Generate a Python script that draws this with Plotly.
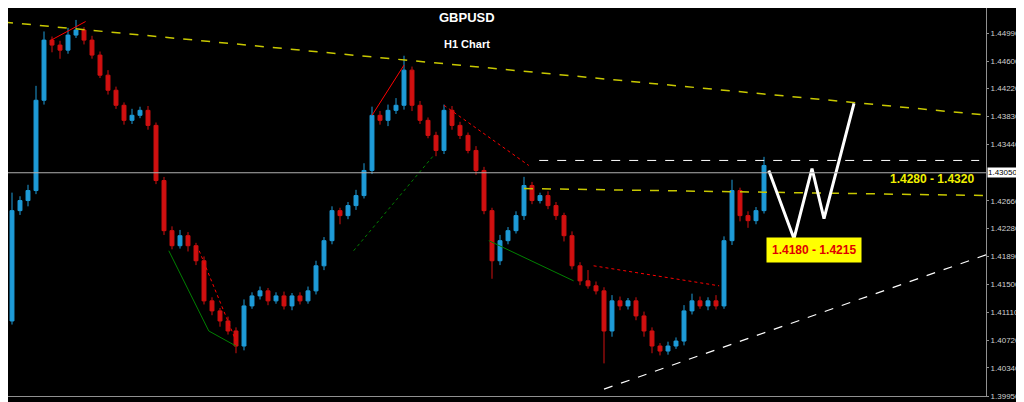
import plotly.graph_objects as go

# hourly closes (one candle per ~8 px)
closes = [1.40992, 1.42524, 1.42664, 1.42803, 1.44057, 1.44892, 1.44823, 1.44753, 1.44962, 1.45032,
          1.44892, 1.44684, 1.44405, 1.44196, 1.43987, 1.43778, 1.43848, 1.43917, 1.43708, 1.42942,
          1.42246, 1.42037, 1.42176, 1.42037, 1.41828, 1.41271, 1.41132, 1.40992, 1.40853, 1.40644,
          1.41201, 1.41340, 1.41410, 1.41271, 1.41340, 1.41201, 1.41340, 1.41271, 1.41410, 1.41758,
          1.42107, 1.42524, 1.42455, 1.42594, 1.42733, 1.43082, 1.43848, 1.43778, 1.43917, 1.43987,
          1.44475, 1.43987, 1.43778, 1.43569, 1.43360, 1.43917, 1.43708, 1.43569, 1.43360, 1.43082,
          1.42524, 1.41828, 1.42107, 1.42246, 1.42455, 1.42873, 1.42664, 1.42733, 1.42594, 1.42455,
          1.42176, 1.41758, 1.41549, 1.41480, 1.41410, 1.40853, 1.41271, 1.41201, 1.41271, 1.41062,
          1.40853, 1.40644, 1.40574, 1.40644, 1.40713, 1.41132, 1.41271, 1.41201, 1.41271, 1.41201,
          1.42107, 1.42803, 1.42455, 1.42385, 1.42524, 1.43151]
first_open = 1.41500
# wick lengths in pips above / below the body
wick_up = [4, 25, 6, 8, 20, 12, 5, 6, 10, 14, 4, 6, 5, 7, 5, 4, 9, 5, 6, 4,
           5, 6, 8, 5, 4, 6, 5, 4, 6, 5, 9, 5, 6, 4, 5, 6, 4, 5, 6, 7,
           5, 6, 4, 5, 8, 10, 12, 6, 8, 10, 20, 5, 6, 4, 5, 8, 6, 5, 4, 6,
           5, 4, 8, 5, 6, 12, 5, 4, 6, 5, 4, 6, 5, 15, 6, 5, 8, 6, 4, 5,
           6, 5, 4, 6, 5, 8, 10, 6, 5, 8, 6, 15, 4, 6, 5, 12]
wick_dn = [10, 5, 6, 8, 5, 6, 10, 12, 5, 4, 6, 5, 4, 6, 5, 6, 5, 4, 6, 5,
           6, 5, 4, 8, 6, 5, 6, 8, 5, 10, 6, 4, 5, 6, 4, 5, 6, 5, 4, 5,
           6, 5, 12, 5, 6, 4, 5, 6, 8, 5, 6, 8, 5, 4, 8, 5, 6, 5, 4, 6,
           5, 25, 6, 5, 4, 6, 5, 4, 5, 6, 8, 5, 6, 4, 5, 45, 8, 6, 5, 6,
           8, 10, 6, 5, 4, 6, 5, 4, 6, 5, 4, 6, 8, 10, 5, 4]

opens = [first_open] + closes[:-1]
highs = [max(o, c) + w / 10000 for o, c, w in zip(opens, closes, wick_up)]
lows = [min(o, c) - w / 10000 for o, c, w in zip(opens, closes, wick_dn)]
xs = list(range(len(closes)))

y_ticks = [1.45380, 1.44990, 1.44600, 1.44220, 1.43830, 1.43440, 1.42660,
           1.42280, 1.41890, 1.41500, 1.41110, 1.40720, 1.40340, 1.39950]
current_price = 1.43050

# drawn lines (x in candle units)
top_line_x, top_line_y = [0, 123.1], [1.45143, 1.43848]
mid_yellow_x, mid_yellow_y = [65, 123.1], [1.42831, 1.42733]
white_dash_x, white_dash_y = [66.9, 121.9], [1.43221, 1.43221]
bottom_line_x, bottom_line_y = [75, 123.1], [1.40045, 1.41925]
zigzag_x = [95.6, 98.75, 101, 102.5, 106.25]
zigzag_y = [1.43082, 1.42134, 1.43109, 1.42413, 1.44015]
pattern_lines = [
    ([55, 65.6], [1.43987, 1.43151], "red", "dot"),
    ([43.7, 53.7], [1.41967, 1.43290], "green", "dot"),
    ([20.6, 25.6, 29], [1.41967, 1.40853, 1.40644], "green", "solid"),
    ([24.4, 29], [1.41967, 1.40713], "red", "dot"),
    ([60.6, 71.2], [1.42107, 1.41549], "green", "solid"),
    ([73.7, 89.4], [1.41758, 1.41480], "red", "dot"),
    ([46, 50], [1.43848, 1.44545], "red", "solid"),
    ([5.9, 10.2], [1.44892, 1.45150], "red", "solid"),
]

fig = go.Figure()
fig.add_trace(go.Candlestick(
    x=xs, open=opens, high=highs, low=lows, close=closes,
    increasing=dict(line=dict(color="#1E9BD7", width=1), fillcolor="#1E9BD7"),
    decreasing=dict(line=dict(color="#D01010", width=1), fillcolor="#D01010"),
    whiskerwidth=0, showlegend=False, hoverinfo="skip"))

for lx, ly, col, dash in pattern_lines:
    fig.add_trace(go.Scatter(x=lx, y=ly, mode="lines", showlegend=False,
                             line=dict(color=col, width=1, dash=dash)))

fig.add_trace(go.Scatter(x=top_line_x, y=top_line_y, mode="lines", showlegend=False,
                         line=dict(color="#C8C800", width=1.5, dash="dash")))
fig.add_trace(go.Scatter(x=mid_yellow_x, y=mid_yellow_y, mode="lines", showlegend=False,
                         line=dict(color="#C8C800", width=1.5, dash="dash")))
fig.add_trace(go.Scatter(x=white_dash_x, y=white_dash_y, mode="lines", showlegend=False,
                         line=dict(color="white", width=1, dash="dash")))
fig.add_trace(go.Scatter(x=bottom_line_x, y=bottom_line_y, mode="lines", showlegend=False,
                         line=dict(color="white", width=1.2, dash="dash")))
fig.add_trace(go.Scatter(x=zigzag_x, y=zigzag_y, mode="lines", showlegend=False,
                         line=dict(color="white", width=3)))

fig.add_hline(y=current_price, line=dict(color="#B0B0B0", width=1))

fig.add_annotation(x=0.469, y=0.999, xref="paper", yref="paper", text="<b>GBPUSD</b>",
                   showarrow=False, font=dict(color="white", size=13, family="Arial"))
fig.add_annotation(x=0.469, y=0.929, xref="paper", yref="paper", text="<b>H1 Chart</b>",
                   showarrow=False, font=dict(color="white", size=11, family="Arial"))
fig.add_annotation(x=116, y=1.42960, text="<b>1.4280 - 1.4320</b>", showarrow=False,
                   font=dict(color="#F0F000", size=12, family="Arial"))
fig.add_annotation(x=101.3, y=1.41980, text="<b>1.4180 - 1.4215</b>", showarrow=False,
                   bgcolor="#FFFF00", borderpad=5,
                   font=dict(color="#E00000", size=12, family="Arial"))
fig.add_annotation(x=1.0, y=current_price, xref="paper", xanchor="left", xshift=1,
                   text="1.43050", showarrow=False, bgcolor="white", borderpad=0,
                   font=dict(color="black", size=8, family="Arial"))

fig.update_layout(
    width=1016, height=394,
    paper_bgcolor="black", plot_bgcolor="black",
    margin=dict(l=0, r=38, t=0, b=6),
    xaxis=dict(range=[0.5, 122.75], showgrid=False, zeroline=False,
               showticklabels=False, rangeslider=dict(visible=False),
               showline=True, linecolor="#909090", mirror=True),
    yaxis=dict(range=[1.3995, 1.45338], side="right", showgrid=False, zeroline=False,
               tickvals=y_ticks, ticktext=[f"{v:.5f}" for v in y_ticks],
               tickfont=dict(color="#D0D0D0", size=8, family="Arial"),
               ticks="outside", ticklen=2, tickcolor="#909090",
               showline=True, linecolor="#909090", mirror=True),
)

fig.write_html("out.html")
